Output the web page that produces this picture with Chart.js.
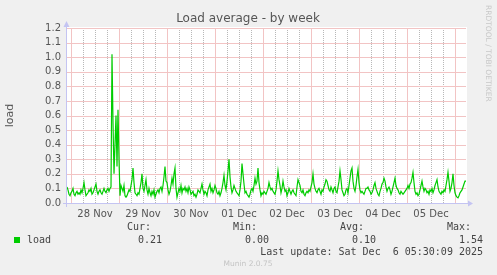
<!DOCTYPE html>
<html>
<head>
<meta charset="utf-8">
<script src="https://cdn.jsdelivr.net/npm/chart.js@4"></script>
<style>
  html, body { margin: 0; padding: 0; background: #f0f0f0; }
  canvas { display: block; }
</style>
</head>
<body>
<canvas id="loadChart" width="497" height="275"></canvas>
<script>
// one sample every 30 minutes, hours counted from 28 Nov 00:00
const sampleStart = -2;
const sampleStep = 0.5;
const loadValues = [
  0.11,0.09,0.06,0.05,0.07,0.08,0.10,0.06,0.05,0.07,
  0.08,0.06,0.07,0.06,0.09,0.07,0.10,0.14,0.09,0.05,
  0.06,0.07,0.09,0.08,0.10,0.06,0.07,0.09,0.11,0.13,
  0.08,0.06,0.08,0.09,0.07,0.06,0.08,0.10,0.08,0.07,
  0.09,0.10,0.08,0.10,0.11,1.02,0.55,0.20,0.40,0.60,
  0.25,0.64,0.30,0.05,0.12,0.10,0.08,0.12,0.05,0.04,
  0.05,0.07,0.09,0.08,0.12,0.16,0.24,0.14,0.07,0.06,
  0.05,0.07,0.06,0.10,0.14,0.20,0.10,0.08,0.12,0.16,
  0.09,0.06,0.10,0.07,0.05,0.08,0.06,0.09,0.04,0.06,
  0.08,0.09,0.07,0.10,0.11,0.08,0.12,0.18,0.25,0.15,
  0.14,0.09,0.06,0.08,0.12,0.17,0.13,0.20,0.24,0.10,
  0.04,0.07,0.10,0.08,0.12,0.07,0.10,0.09,0.11,0.08,
  0.10,0.07,0.11,0.09,0.06,0.07,0.08,0.05,0.06,0.04,
  0.06,0.09,0.08,0.07,0.10,0.13,0.09,0.06,0.08,0.07,
  0.05,0.09,0.11,0.13,0.08,0.10,0.07,0.09,0.12,0.10,
  0.07,0.06,0.08,0.05,0.07,0.10,0.14,0.19,0.12,0.09,
  0.15,0.22,0.30,0.18,0.11,0.07,0.09,0.12,0.10,0.08,
  0.07,0.06,0.05,0.09,0.15,0.27,0.20,0.13,0.07,0.08,
  0.06,0.05,0.04,0.06,0.09,0.10,0.08,0.12,0.17,0.13,
  0.15,0.24,0.14,0.09,0.05,0.07,0.06,0.08,0.07,0.06,
  0.08,0.10,0.14,0.11,0.09,0.10,0.08,0.07,0.06,0.09,
  0.15,0.22,0.16,0.12,0.07,0.10,0.15,0.11,0.08,0.09,
  0.05,0.07,0.10,0.08,0.06,0.08,0.09,0.07,0.06,0.05,
  0.11,0.16,0.14,0.12,0.08,0.07,0.09,0.06,0.05,0.07,
  0.08,0.07,0.09,0.08,0.11,0.14,0.20,0.13,0.10,0.08,
  0.07,0.09,0.10,0.08,0.06,0.09,0.08,0.11,0.13,0.16,
  0.15,0.12,0.09,0.08,0.11,0.09,0.07,0.10,0.11,0.08,
  0.07,0.11,0.15,0.22,0.16,0.09,0.07,0.05,0.06,0.09,
  0.10,0.07,0.12,0.17,0.22,0.24,0.15,0.10,0.08,0.12,
  0.18,0.23,0.14,0.09,0.07,0.08,0.07,0.06,0.08,0.10,
  0.10,0.11,0.09,0.08,0.06,0.07,0.09,0.12,0.14,0.10,
  0.08,0.06,0.05,0.08,0.10,0.13,0.14,0.17,0.15,0.11,
  0.08,0.10,0.11,0.09,0.06,0.08,0.11,0.14,0.17,0.12,
  0.10,0.09,0.07,0.06,0.08,0.07,0.06,0.07,0.08,0.09,
  0.10,0.12,0.10,0.13,0.14,0.17,0.21,0.14,0.08,0.06,
  0.07,0.05,0.06,0.09,0.12,0.15,0.11,0.08,0.10,0.09,
  0.07,0.08,0.06,0.09,0.08,0.10,0.07,0.09,0.12,0.14,
  0.16,0.11,0.08,0.07,0.06,0.08,0.07,0.09,0.08,0.12,
  0.16,0.21,0.15,0.08,0.10,0.14,0.20,0.12,0.07,0.05,
  0.04,0.035,0.05,0.07,0.08,0.09,0.11,0.13,0.15,0.15
];
const dayLabels = ['28 Nov', '29 Nov', '30 Nov', '01 Dec', '02 Dec', '03 Dec', '04 Dec', '05 Dec'];
const yTicks = [0.0, 0.1, 0.2, 0.3, 0.4, 0.5, 0.6, 0.7, 0.8, 0.9, 1.0, 1.1, 1.2];
const legendLabels = ['Cur:', 'Min:', 'Avg:', 'Max:'];
const legendValues = ['0.21', '0.00', '0.10', '1.54'];
const seriesName = 'load';
const lastUpdate = 'Last update: Sat Dec  6 05:30:09 2025';

const points = loadValues.map((v, i) => ({ x: sampleStart + i * sampleStep, y: v }));

const majorGrid = '#f2c4c4';
const minorGrid = '#b8b8b8';
const axisColor = '#c4c4f2';
const textColor = '#555555';

// dotted line drawn pixel by pixel so the dots stay crisp
function dotLine(c, x, y0, y1) {
    for (let y = y0; y <= y1; y += 2) c.fillRect(x, y, 1, 1);
}

const munin = {
    id: 'munin',
    beforeDraw(chart) {
        const c = chart.ctx, a = chart.chartArea;
        c.save();
        c.fillStyle = '#f0f0f0';
        c.fillRect(0, 0, chart.width, chart.height);
        c.fillStyle = '#ffffff';
        c.fillRect(a.left, a.top - 1, a.right - a.left, a.bottom - a.top + 1);
        c.restore();
    },
    beforeDatasetsDraw(chart) {
        const c = chart.ctx, a = chart.chartArea;
        const xs = chart.scales.x, ys = chart.scales.y;
        const l = Math.round(a.left), r = Math.round(a.right) - 1;
        const t = Math.round(a.top), b = Math.round(a.bottom);
        c.save();
        xs.ticks.forEach(tk => {
            const px = Math.round(xs.getPixelForValue(tk.value));
            if (px < l || px > r) return;
            if (tk.value % 24 === 0) {
                c.fillStyle = majorGrid;
                c.fillRect(px, t, 1, b - t);
            } else {
                c.fillStyle = minorGrid;
                dotLine(c, px, t, b);
            }
        });
        c.fillStyle = majorGrid;
        ys.ticks.forEach(tk => {
            const py = Math.round(ys.getPixelForValue(tk.value));
            c.fillRect(l, py, r - l, 1);
        });
        c.restore();
    },
    afterDraw(chart) {
        const c = chart.ctx, a = chart.chartArea;
        c.save();
        // axes with arrows
        c.strokeStyle = axisColor;
        c.fillStyle = axisColor;
        c.lineWidth = 1;
        c.beginPath();
        c.moveTo(a.left - 0.5, a.bottom + 4);
        c.lineTo(a.left - 0.5, a.top - 2);
        c.moveTo(a.left - 4, a.bottom + 0.5);
        c.lineTo(a.right + 2, a.bottom + 0.5);
        c.stroke();
        c.beginPath();
        c.moveTo(a.left - 0.5, a.top - 7);
        c.lineTo(a.left - 3.5, a.top - 1);
        c.lineTo(a.left + 2.5, a.top - 1);
        c.closePath();
        c.fill();
        c.beginPath();
        c.moveTo(a.right + 6, a.bottom + 0.5);
        c.lineTo(a.right + 1, a.bottom - 2.5);
        c.lineTo(a.right + 1, a.bottom + 3.5);
        c.closePath();
        c.fill();

        // title
        c.fillStyle = textColor;
        c.font = '12px "DejaVu Sans"';
        c.textAlign = 'center';
        c.textBaseline = 'middle';
        c.fillText('Load average - by week', 248, 19);

        // y axis title
        c.save();
        c.translate(10, (a.top + a.bottom) / 2);
        c.rotate(-Math.PI / 2);
        c.font = '11px "DejaVu Sans"';
        c.fillText(seriesName, 0, 0);
        c.restore();

        // rrdtool credit
        c.save();
        c.translate(488, 5);
        c.rotate(Math.PI / 2);
        c.fillStyle = '#c8c8c8';
        c.font = '7.5px "DejaVu Sans"';
        c.textAlign = 'left';
        c.fillText('RRDTOOL / TOBI OETIKER', 0, 0);
        c.restore();

        // legend block
        c.fillStyle = '#00cc00';
        c.fillRect(14, 237, 6, 6);
        c.fillStyle = '#444444';
        c.font = '10px "DejaVu Sans Mono"';
        c.textAlign = 'left';
        c.fillText(seriesName, 27, 240);
        const labelX = [127, 233, 340, 447];
        const valueX = [138, 245, 352, 459];
        legendLabels.forEach((t, i) => c.fillText(t, labelX[i], 227));
        legendValues.forEach((t, i) => c.fillText(t, valueX[i], 240));
        c.textAlign = 'right';
        c.fillText(lastUpdate, 483, 252);

        c.fillStyle = '#c4c4c4';
        c.font = '7.5px "DejaVu Sans"';
        c.textAlign = 'center';
        c.fillText('Munin 2.0.75', 248, 264);
        c.restore();
    }
};

new Chart(document.getElementById('loadChart'), {
    type: 'line',
    data: {
        datasets: [{
            label: seriesName,
            data: points,
            borderColor: '#00cc00',
            borderWidth: 1.2,
            pointRadius: 0,
            tension: 0,
            fill: false,
        }]
    },
    options: {
        responsive: false,
        animation: false,
        devicePixelRatio: 1,
        layout: { padding: { top: 28, right: 30, bottom: 0, left: 0 } },
        plugins: { legend: { display: false }, tooltip: { enabled: false } },
        scales: {
            x: {
                type: 'linear',
                min: -2,
                max: 198,
                afterFit: s => { s.height = 72; },
                afterBuildTicks: s => {
                    const t = [];
                    for (let v = 0; v <= 192; v += 6) t.push({ value: v });
                    s.ticks = t;
                },
                grid: { display: false, drawTicks: false },
                border: { display: false },
                ticks: {
                    autoSkip: false,
                    maxRotation: 0,
                    padding: 5,
                    color: textColor,
                    font: { family: 'DejaVu Sans', size: 10 },
                    callback: v => (v % 24 === 12) ? dayLabels[(v - 12) / 24] : '',
                },
            },
            y: {
                min: 0,
                max: 1.2,
                afterFit: s => { s.width = 67; },
                afterBuildTicks: s => { s.ticks = yTicks.map(v => ({ value: v })); },
                grid: { display: false, drawTicks: false },
                border: { display: false },
                ticks: {
                    autoSkip: false,
                    padding: 6,
                    color: textColor,
                    font: { family: 'DejaVu Sans', size: 10 },
                    callback: v => v.toFixed(1),
                },
            },
        },
    },
    plugins: [munin],
});
</script>
</body>
</html>
